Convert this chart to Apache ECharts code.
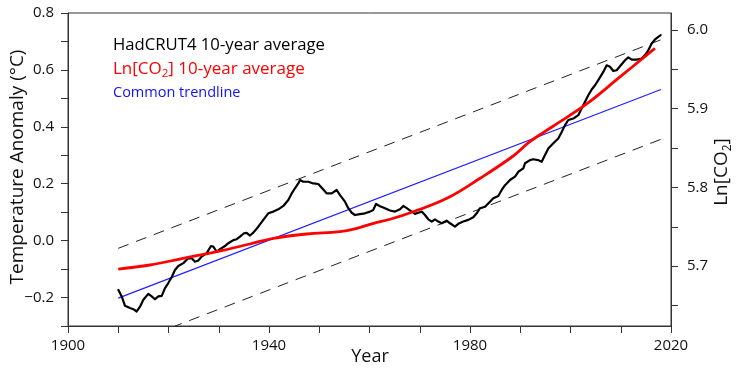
<!DOCTYPE html>
<html>
<head>
<meta charset="utf-8">
<script src="https://cdn.jsdelivr.net/npm/echarts@6/dist/echarts.min.js"></script>
<style>html,body{margin:0;padding:0;background:#fff}#c{width:740px;height:373px}</style>
</head>
<body>
<div id="c"></div>
<script>
// HadCRUT4 10-year average (year, °C anomaly)
const hadYears = [1910.01,1910.69,1911.34,1912.34,1913.0,1913.67,1914.33,1914.99,1915.98,1916.66,1917.31,1917.97,1918.65,1919.3,1919.96,1920.64,1921.29,1921.95,1922.95,1923.94,1924.62,1925.27,1925.93,1926.61,1927.6,1928.46,1928.92,1929.59,1930.25,1931.24,1931.9,1932.9,1933.57,1934.23,1935.02,1935.56,1936.22,1936.88,1937.87,1938.87,1939.86,1940.86,1941.85,1942.85,1943.84,1944.52,1945.17,1945.83,1946.17,1946.83,1947.82,1948.82,1949.81,1950.81,1951.48,1952.48,1953.47,1954.13,1955.12,1955.78,1956.46,1957.11,1958.11,1959.1,1960.1,1960.76,1961.29,1962.09,1963.08,1964.08,1965.07,1966.07,1966.73,1967.4,1968.4,1969.05,1969.71,1970.39,1971.04,1971.7,1972.38,1973.03,1973.69,1974.37,1975.36,1976.02,1977.01,1977.67,1978.67,1979.66,1980.66,1981.33,1981.99,1982.99,1983.98,1984.64,1985.63,1986.31,1986.97,1987.96,1988.96,1989.61,1990.61,1990.95,1991.94,1992.6,1993.59,1994.27,1994.93,1995.58,1996.58,1997.57,1998.25,1998.91,1999.56,2000.56,2001.55,2002.23,2002.89,2003.54,2004.22,2004.88,2005.53,2006.53,2007.2,2007.86,2008.52,2009.19,2009.85,2010.85,2011.5,2012.18,2013.17,2014.17,2014.83,2015.48,2016.16,2016.82,2017.47,2017.95];
const hadTemps = [-0.173,-0.196,-0.229,-0.237,-0.241,-0.249,-0.232,-0.208,-0.187,-0.196,-0.206,-0.196,-0.194,-0.167,-0.149,-0.128,-0.103,-0.089,-0.079,-0.062,-0.062,-0.074,-0.070,-0.056,-0.044,-0.019,-0.021,-0.039,-0.030,-0.019,-0.009,0.002,0.005,0.014,0.026,0.027,0.018,0.028,0.049,0.073,0.096,0.102,0.110,0.122,0.143,0.166,0.184,0.201,0.213,0.207,0.207,0.201,0.199,0.180,0.166,0.166,0.178,0.160,0.137,0.114,0.098,0.090,0.093,0.096,0.102,0.108,0.129,0.121,0.114,0.106,0.102,0.110,0.122,0.114,0.102,0.094,0.098,0.102,0.090,0.075,0.067,0.075,0.067,0.061,0.070,0.061,0.049,0.059,0.067,0.073,0.082,0.096,0.114,0.119,0.137,0.149,0.157,0.178,0.195,0.213,0.225,0.242,0.254,0.272,0.283,0.286,0.283,0.277,0.301,0.324,0.342,0.359,0.382,0.406,0.424,0.429,0.441,0.465,0.488,0.511,0.531,0.546,0.564,0.593,0.616,0.611,0.596,0.599,0.613,0.634,0.644,0.636,0.636,0.640,0.652,0.669,0.693,0.707,0.716,0.722];

// Ln[CO2] 10-year average (right axis)
const co2Years = [1910.0,1916.3,1922.9,1929.6,1936.2,1940.9,1947.5,1954.1,1957.5,1960.8,1964.1,1968.7,1975.4,1982.0,1988.6,1991.9,1996.6,2003.2,2009.9,2016.8];
const co2Ln    = [5.6963,5.7014,5.7099,5.7183,5.7281,5.7353,5.7408,5.7437,5.7480,5.7544,5.7595,5.7691,5.7861,5.8116,5.8399,5.8581,5.8780,5.9060,5.9407,5.9767];

// Common trendline and its envelope (°C)
const trendYears = [1910, 2018];
const trendTemps = [-0.202, 0.531];
const upperTemps = [-0.027, 0.706];
const lowerTemps = [-0.377, 0.356];

// Axis ticks
const xLabels = [1900,1940,1980,2020];
const leftLabels = [-0.2,0.0,0.2,0.4,0.6,0.8];
const rightTicks = [5.65,5.7,5.75,5.8,5.85,5.9,5.95,6.0];
const rightLabels = [5.7,5.8,5.9,6.0];

const legendNames = ['HadCRUT4 10-year average', 'Ln[CO2] 10-year average', 'Common trendline'];
const axisTitles = ['Year', 'Temperature Anomaly (°C)', 'Ln[CO2]'];

const FONT = 'Open Sans';
const zip = (a, b) => a.map((v, i) => [v, b[i]]);
const axisCol = '#333';
const txtCol = '#111';

const chart = echarts.init(document.getElementById('c'), null, {renderer: 'canvas'});
chart.setOption({
  animation: false,
  backgroundColor: '#fff',
  textStyle: {fontFamily: FONT},
  grid: {left: 68, right: 69, top: 13, bottom: 47, containLabel: false, outerBoundsMode: 'none',
         show: true, borderColor: axisCol, borderWidth: 1, backgroundColor: 'transparent'},
  xAxis: {
    type: 'value', min: 1900, max: 2020, interval: 10,
    axisLine: {show: true, onZero: false, lineStyle: {color: axisCol, width: 1}},
    axisTick: {show: true, inside: false, length: 7, lineStyle: {color: axisCol, width: 1}},
    splitLine: {show: false},
    axisLabel: {
      fontSize: 15, color: txtCol, margin: 12, fontFamily: FONT,
      formatter: v => xLabels.indexOf(Math.round(v)) >= 0 ? String(Math.round(v)) : ''
    }
  },
  yAxis: [{
    type: 'value', min: -0.3, max: 0.8, interval: 0.1, position: 'left',
    axisLine: {show: true, onZero: false, lineStyle: {color: axisCol, width: 1}},
    axisTick: {show: true, inside: false, length: 7, lineStyle: {color: axisCol, width: 1}},
    splitLine: {show: false},
    axisLabel: {
      fontSize: 15, color: txtCol, margin: 14, fontFamily: FONT,
      formatter: v => {
        const r = Math.round(v * 10) / 10;
        if (!leftLabels.some(l => Math.abs(l - r) < 1e-6)) return '';
        return (r < 0 ? '\u2212' : '') + Math.abs(r).toFixed(1);
      }
    }
  }, {
    type: 'value', min: 5.6239, max: 6.0216, position: 'right',
    axisLine: {show: true, onZero: false, lineStyle: {color: axisCol, width: 1}},
    axisTick: {show: true, inside: false, length: 7, lineStyle: {color: axisCol, width: 1}, customValues: rightTicks},
    splitLine: {show: false},
    axisLabel: {
      fontSize: 15, color: txtCol, margin: 16, fontFamily: FONT,
      customValues: rightLabels,
      formatter: v => v.toFixed(1)
    }
  }],
  graphic: [{
    type: 'text', x: 370, y: 357,
    style: {text: axisTitles[0], fontSize: 18, fontFamily: FONT, fill: txtCol, align: 'center', verticalAlign: 'middle'}
  }, {
    type: 'text', x: 18, y: 167, rotation: Math.PI / 2,
    style: {text: axisTitles[1], fontSize: 19, fontFamily: FONT, fill: txtCol, align: 'center', verticalAlign: 'middle'}
  }, {
    type: 'text', x: 722, y: 172, rotation: Math.PI / 2,
    style: {
      text: '{a|Ln[CO}{s|2}{a|]}', fontFamily: FONT, align: 'center', verticalAlign: 'middle',
      rich: {
        a: {fontSize: 19, fontFamily: FONT, fill: txtCol, lineHeight: 24},
        s: {fontSize: 12, fontFamily: FONT, fill: txtCol, lineHeight: 13, verticalAlign: 'bottom'}
      }
    }
  }, {
    type: 'text', left: 113, top: 37,
    style: {text: legendNames[0], fontSize: 16.7, fontFamily: FONT, fill: '#000'}
  }, {
    type: 'text', left: 113, top: 61,
    style: {
      text: '{a|Ln[CO}{s|2}{a|] 10-year average}', fontFamily: FONT,
      rich: {
        a: {fontSize: 17, fontFamily: FONT, fill: '#ff0000', lineHeight: 21},
        s: {fontSize: 11.5, fontFamily: FONT, fill: '#ff0000', lineHeight: 11, verticalAlign: 'bottom'}
      }
    }
  }, {
    type: 'text', left: 113, top: 85,
    style: {text: legendNames[2], fontSize: 14.5, fontFamily: FONT, fill: '#1010ff'}
  }],
  series: [{
    name: 'upper', type: 'line', yAxisIndex: 0, data: zip(trendYears, upperTemps),
    symbol: 'none', lineStyle: {color: '#222', width: 1, type: [11, 8]}, z: 1
  }, {
    name: 'lower', type: 'line', yAxisIndex: 0, data: zip(trendYears, lowerTemps),
    symbol: 'none', lineStyle: {color: '#222', width: 1, type: [11, 8]}, z: 1
  }, {
    name: legendNames[2], type: 'line', yAxisIndex: 0, data: zip(trendYears, trendTemps),
    symbol: 'none', lineStyle: {color: '#2020ff', width: 1.2}, z: 2
  }, {
    name: legendNames[0], type: 'line', yAxisIndex: 0, data: zip(hadYears, hadTemps),
    symbol: 'none', lineStyle: {color: '#000', width: 2.2, join: 'round', cap: 'round'}, z: 3
  }, {
    name: legendNames[1], type: 'line', yAxisIndex: 1, data: zip(co2Years, co2Ln),
    symbol: 'none', smooth: 0.4, lineStyle: {color: '#ff0000', width: 2.8}, z: 4
  }]
});
</script>
</body>
</html>
